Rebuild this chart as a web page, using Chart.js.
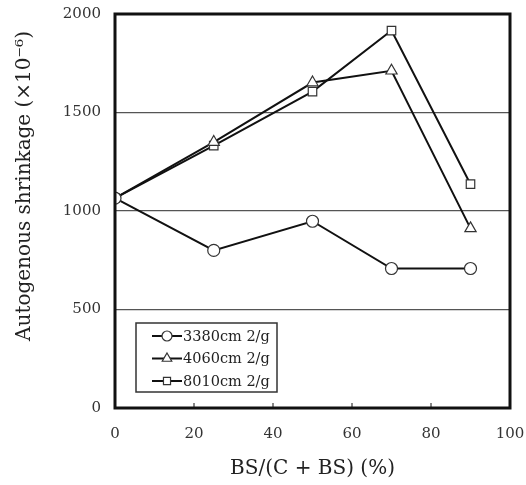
<!DOCTYPE html>
<html>
<head>
<meta charset="utf-8">
<script src="https://cdn.jsdelivr.net/npm/chart.js@4"></script>
<style>
  html, body { margin: 0; padding: 0; background: #fff; }
  #wrap { width: 526px; height: 485px; }
</style>
</head>
<body>
<div id="wrap"><canvas id="chart" width="526" height="485"></canvas></div>
<script>
// BS replacement ratio (%) and shrinkage for each blaine fineness
var ratio = [0, 25, 50, 70, 90];
var s3380 = [1065, 800, 948, 708, 708];
var s4060 = [1065, 1350, 1652, 1712, 912];
var s8010 = [1065, 1332, 1606, 1916, 1136];

var names = ['3380cm 2/g', '4060cm 2/g', '8010cm 2/g'];
var marks = ['circle', 'triangle', 'rect'];
var yTicks = [0, 500, 1000, 1500, 2000];
var xTicks = [0, 20, 40, 60, 80, 100];
var yTitle = 'Autogenous shrinkage (×10⁻⁶)';

var serif = '"DejaVu Serif", "Liberation Serif", serif';

function series(vals, i) {
  return {
    label: names[i],
    data: ratio.map(function (x, k) { return { x: x, y: vals[k] }; }),
    borderColor: '#111',
    borderWidth: 2,
    pointStyle: marks[i],
    pointRadius: marks[i] == 'triangle' ? 6.5 : 6,
    pointBackgroundColor: '#fff',
    pointBorderColor: '#333',
    pointBorderWidth: 1.2,
    tension: 0
  };
}

// thick frame round the plot, inward ticks and the rotated y title
var framePlugin = {
  id: 'frame',
  afterDatasetsDraw: function (chart) {
    var c = chart.ctx, a = chart.chartArea;
    var xs = chart.scales.x;
    c.save();
    c.strokeStyle = '#111';
    c.lineWidth = 1;
    xTicks.forEach(function (t) {
      var px = xs.getPixelForValue(t);
      c.beginPath();
      c.moveTo(px, a.bottom);
      c.lineTo(px, a.bottom - 5);
      c.stroke();
    });
    c.lineWidth = 3;
    c.strokeRect(a.left, a.top, a.right - a.left, a.bottom - a.top);

    c.translate(a.left - 90, a.top + 172);
    c.rotate(-Math.PI / 2);
    c.font = '20px ' + serif;
    c.fillStyle = '#222';
    c.textAlign = 'center';
    c.textBaseline = 'middle';
    c.fillText(yTitle, 0, 0);
    c.restore();
  }
};

// boxed legend sitting inside the plot, lower left
var boxLegend = {
  id: 'boxLegend',
  afterDraw: function (chart) {
    var c = chart.ctx, a = chart.chartArea;
    var bx = a.left + 21, by = a.bottom - 85, bw = 141, bh = 69;
    c.save();
    c.fillStyle = '#fff';
    c.fillRect(bx, by, bw, bh);
    c.strokeStyle = '#333';
    c.lineWidth = 1.5;
    c.strokeRect(bx, by, bw, bh);
    c.font = '14.5px ' + serif;
    c.textBaseline = 'middle';
    chart.data.datasets.forEach(function (ds, i) {
      var ly = by + 13 + i * 22.5;
      c.strokeStyle = '#111';
      c.lineWidth = 2;
      c.beginPath();
      c.moveTo(bx + 16, ly);
      c.lineTo(bx + 46, ly);
      c.stroke();
      c.fillStyle = '#fff';
      c.strokeStyle = '#333';
      c.lineWidth = 1.2;
      Chart.helpers.drawPoint(c, { pointStyle: ds.pointStyle, radius: ds.pointRadius - 1, borderWidth: 1.2 }, bx + 31, ly);
      c.fillStyle = '#222';
      c.fillText(ds.label, bx + 47, ly + 1);
    });
    c.restore();
  }
};

new Chart(document.getElementById('chart'), {
  type: 'line',
  data: {
    datasets: [series(s3380, 0), series(s4060, 1), series(s8010, 2)]
  },
  options: {
    responsive: false,
    animation: false,
    layout: { padding: { top: 14, right: 16, left: 0, bottom: 0 } },
    plugins: { legend: { display: false }, tooltip: { enabled: false } },
    scales: {
      x: {
        type: 'linear',
        min: 0, max: 100,
        afterBuildTicks: function (s) { s.ticks = xTicks.map(function (v) { return { value: v }; }); },
        afterFit: function (s) { s.height = 77; s.paddingLeft = 0; s.paddingRight = 0; },
        grid: { display: false },
        border: { display: false },
        ticks: { color: '#333', font: { family: serif, size: 15 }, padding: 9, maxRotation: 0,
          callback: function (v) { return String(v); } },
        title: { display: true, text: 'BS/(C + BS) (%)', color: '#222', font: { family: serif, size: 20 }, padding: { top: 4 } }
      },
      y: {
        min: 0, max: 2000,
        afterBuildTicks: function (s) { s.ticks = yTicks.map(function (v) { return { value: v }; }); },
        afterFit: function (s) { s.width = 115; s.paddingTop = 0; s.paddingBottom = 0; },
        grid: {
          drawTicks: false,
          lineWidth: 1.2,
          color: function (ctx) {
            var v = ctx.tick && ctx.tick.value;
            return (v == 0 || v == 2000) ? 'rgba(0,0,0,0)' : '#555';
          }
        },
        border: { display: false },
        ticks: { color: '#333', font: { family: serif, size: 15 }, padding: 14,
          callback: function (v) { return String(v); } }
      }
    }
  },
  plugins: [framePlugin, boxLegend]
});
</script>
</body>
</html>
